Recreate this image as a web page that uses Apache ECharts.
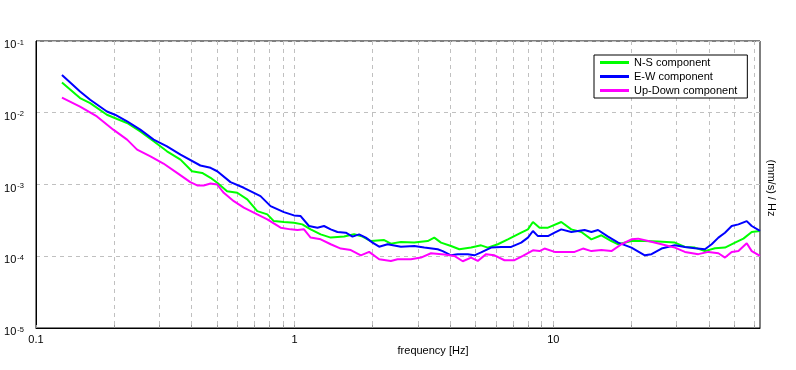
<!DOCTYPE html>
<html><head><meta charset="utf-8">
<script src="https://cdn.jsdelivr.net/npm/echarts@6/dist/echarts.min.js"></script>
<style>html,body{margin:0;padding:0;background:#fff}#c{width:796px;height:370px}</style>
</head><body><div id="c"></div>
<script>
const nsFreq = [0.126,0.148,0.162,0.188,0.206,0.225,0.253,0.285,0.321,0.362,0.401,0.439,0.473,0.502,0.548,0.600,0.656,0.717,0.784,0.831,0.909,0.994,1.071,1.153,1.261,1.379,1.553,1.698,1.830,1.970,2.219,2.356,2.576,2.90,3.268,3.467,3.681,4.024,4.334,4.811,5.259,5.583,6.105,6.675,7.516,7.98,8.344,8.85,9.54,10.74,11.74,12.84,14.04,15.35,16.78,17.82,20.06,22.59,25.46,29.53,32.29,35.3,38.59,42.19,46.13,50.43,54.35,58.53,63.0];
const nsVals = [0.0264,0.016,0.0136,0.00938,0.00818,0.00719,0.0055,0.004,0.0029,0.00222,0.00153,0.00145,0.00124,0.00106,0.000807,0.000767,0.000619,0.000426,0.000383,0.000309,0.0003,0.000294,0.000278,0.000237,0.000202,0.000182,0.000188,0.000202,0.000188,0.000163,0.000168,0.00015,0.000158,0.000155,0.000163,0.000182,0.000155,0.000139,0.000125,0.000132,0.000142,0.000132,0.000147,0.000172,0.000213,0.000237,0.0003,0.00025,0.00025,0.0003,0.000237,0.000218,0.000172,0.000196,0.000163,0.000147,0.000163,0.000163,0.00016,0.000155,0.000135,0.000132,0.000118,0.000129,0.000132,0.000155,0.000176,0.000218,0.000225];

const ewFreq = [0.126,0.148,0.162,0.188,0.202,0.225,0.253,0.285,0.321,0.362,0.432,0.473,0.502,0.565,0.636,0.738,0.807,0.909,0.994,1.055,1.136,1.225,1.299,1.379,1.464,1.577,1.674,1.775,1.885,2.001,2.122,2.288,2.576,2.90,3.171,3.574,3.737,4.024,4.271,4.671,4.955,5.259,5.75,6.29,6.875,7.516,7.98,8.344,8.726,9.54,10.12,10.74,11.74,13.22,14.04,14.9,16.29,17.82,20.06,22.59,23.98,26.22,29.53,32.29,35.3,38.59,40.97,43.5,46.13,48.97,51.98,55.98,58.53,63.0];
const ewVals = [0.0337,0.0198,0.0152,0.0104,0.00938,0.00757,0.00581,0.00422,0.0034,0.00261,0.00184,0.00171,0.00153,0.00108,0.0009,0.000688,0.0005,0.000412,0.000371,0.000363,0.000264,0.00025,0.000264,0.000237,0.000218,0.000213,0.000188,0.000202,0.000182,0.000155,0.000136,0.000147,0.000136,0.000139,0.000132,0.000125,0.000118,0.000103,0.000107,0.000107,0.000103,0.000113,0.000132,0.000135,0.000135,0.000155,0.000182,0.000225,0.000191,0.000191,0.000213,0.000237,0.000218,0.000232,0.000218,0.000232,0.000188,0.000155,0.000132,0.000103,0.000107,0.000128,0.000142,0.000135,0.000129,0.000125,0.000147,0.000182,0.000213,0.000264,0.000278,0.000309,0.000264,0.000225];

const udFreq = [0.126,0.148,0.172,0.199,0.225,0.246,0.277,0.311,0.351,0.395,0.420,0.445,0.473,0.502,0.532,0.582,0.636,0.717,0.784,0.883,0.965,1.025,1.087,1.153,1.261,1.379,1.508,1.649,1.803,1.941,2.122,2.356,2.501,2.816,3.079,3.366,3.791,4.145,4.467,4.811,5.106,5.5,5.924,6.477,7.08,7.631,8.344,8.85,9.253,10.12,10.74,12.09,13.03,14.04,15.35,16.78,18.35,20.06,21.3,23.28,26.22,29.53,32.29,36.38,39.78,43.5,46.13,48.97,51.98,55.98,58.53,63.0];
const udVals = [0.0163,0.0122,0.00888,0.00581,0.00422,0.00306,0.00247,0.00196,0.00145,0.00108,0.00097,0.00097,0.00103,0.001,0.000767,0.000586,0.000475,0.000383,0.000327,0.00025,0.000237,0.000232,0.000237,0.000182,0.000172,0.000147,0.000128,0.000122,0.000103,0.000115,0.0000908,0.000086,0.0000908,0.0000908,0.0000959,0.00011,0.000106,0.000101,0.0000852,0.0000959,0.000086,0.000107,0.000103,0.000088,0.000088,0.000101,0.000121,0.000118,0.000128,0.000115,0.000115,0.000115,0.000128,0.000118,0.000122,0.000118,0.000147,0.000172,0.000176,0.000163,0.000147,0.000132,0.000115,0.000107,0.000115,0.00011,0.0000959,0.000115,0.000118,0.000152,0.000118,0.000101];

const seriesNames = ['N-S component', 'E-W component', 'Up-Down component'];
const seriesColors = ['#00ff00', '#0000ff', '#ff00ff'];
const xLabelTicks = [0.1, 1, 10];
const xGridTicks = [0.1,0.2,0.3,0.4,0.5,0.6,0.7,0.8,0.9,1,2,3,4,5,6,7,8,9,10,20,30,40,50,60];
const xMin = 0.1, xMax = 63;
const yMin = 1e-5, yMax = 0.1;
const xTitle = 'frequency [Hz]';
const yTitle = '(mm/s) / Hz';

function pairs(f, v) { return f.map((x, i) => [x, v[i]]); }
const font = 'Liberation Sans, Arial, sans-serif';

const chart = echarts.init(document.getElementById('c'), null, {renderer: 'canvas'});
chart.setOption({
  animation: false,
  backgroundColor: '#fff',
  grid: {left: 36, right: 36, top: 41, bottom: 42, show: true, borderColor: '#000', borderWidth: 1, backgroundColor: 'transparent'},
  xAxis: {
    type: 'log', logBase: 10, min: xMin, max: xMax,
    axisLine: {show: true, lineStyle: {color: '#000', width: 1}},
    axisTick: {show: true, inside: true, length: 3, customValues: xGridTicks, lineStyle: {color: '#999'}},
    axisLabel: {customValues: xLabelTicks, color: '#000', fontSize: 11, fontFamily: font, margin: 6,
      formatter: v => String(v)},
    splitLine: {show: true, lineStyle: {color: '#c0c0c0', type: [4, 4], width: 1}},
    minorTick: {show: false}, minorSplitLine: {show: false}
  },
  yAxis: {
    type: 'log', logBase: 10, min: yMin, max: yMax,
    axisLine: {show: true, lineStyle: {color: '#000', width: 1}},
    axisTick: {show: false},
    splitLine: {show: true, lineStyle: {color: '#c0c0c0', type: [4, 4], width: 1}},
    axisLabel: {
      margin: 12, color: '#000', fontFamily: font, padding: [7, 0, 0, 0],
      formatter: v => '{b|10}{s|' + Math.round(Math.log10(v)) + '}',
      rich: {
        b: {fontSize: 11, fontFamily: font, color: '#000', lineHeight: 12, verticalAlign: 'bottom', padding: [0, 1, 0, 0]},
        s: {fontSize: 7.5, fontFamily: font, color: '#000', lineHeight: 12, verticalAlign: 'top'}
      }
    }
  },
  legend: {
    orient: 'vertical', left: 594, top: 55,
    data: seriesNames,
    icon: 'rect', itemWidth: 29, itemHeight: 3, itemGap: 1, itemTextGap: 5,
    padding: [1, 10, 1, 6],
    borderColor: '#000', borderWidth: 1, backgroundColor: '#fff',
    textStyle: {fontSize: 11, fontFamily: font, color: '#000', lineHeight: 13}
  },
  graphic: [
    {type: 'text', x: 433, y: 351, style: {text: xTitle, font: '11px ' + font, fill: '#000', textAlign: 'center', textVerticalAlign: 'middle'}},
    {type: 'text', x: 771, y: 188, rotation: -Math.PI / 2, style: {text: yTitle, font: '11px ' + font, fill: '#000', textAlign: 'center', textVerticalAlign: 'middle'}}
  ],
  series: [
    {name: seriesNames[0], type: 'line', data: pairs(nsFreq, nsVals), showSymbol: false, symbol: 'none', color: seriesColors[0], lineStyle: {width: 2, color: seriesColors[0]}},
    {name: seriesNames[1], type: 'line', data: pairs(ewFreq, ewVals), showSymbol: false, symbol: 'none', color: seriesColors[1], lineStyle: {width: 2, color: seriesColors[1]}},
    {name: seriesNames[2], type: 'line', data: pairs(udFreq, udVals), showSymbol: false, symbol: 'none', color: seriesColors[2], lineStyle: {width: 2, color: seriesColors[2]}}
  ]
});
</script></body></html>
